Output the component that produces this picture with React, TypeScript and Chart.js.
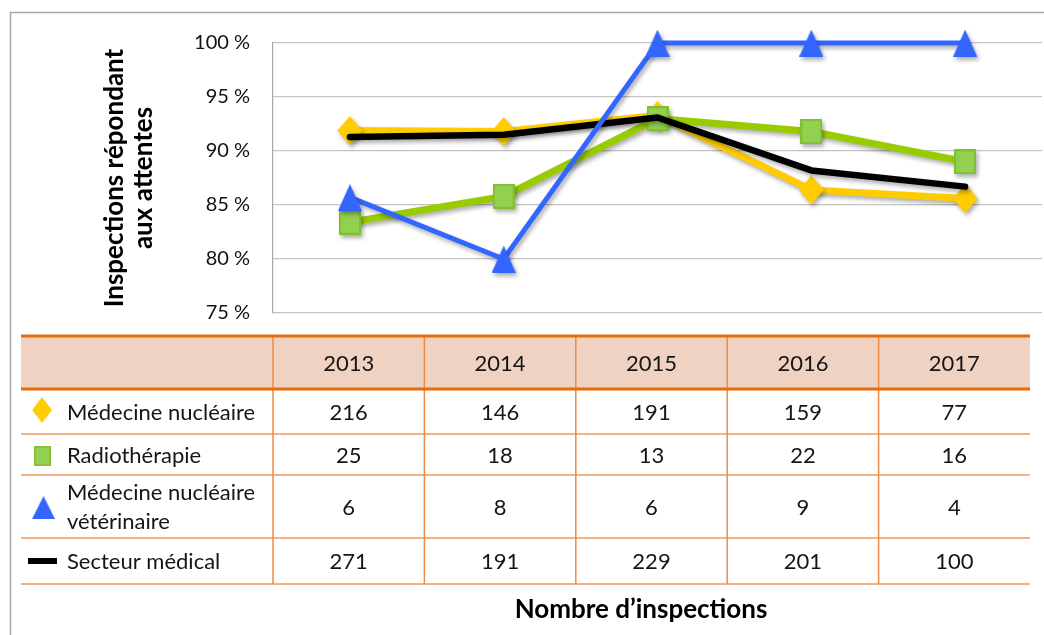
import React, { useEffect, useRef } from 'react';
import { Chart, registerables } from 'chart.js';

Chart.register(...registerables);

// ---- Data ----
const years = ['2013', '2014', '2015', '2016', '2017'];
const medNucPct = [91.9, 91.8, 93.3, 86.4, 85.6];
const radioPct = [83.4, 85.8, 93.0, 91.8, 89.0];
const vetPct = [85.7, 80.0, 100, 100, 100];
const secteurPct = [91.3, 91.5, 93.1, 88.2, 86.7];

const medNucCount = [216, 146, 191, 159, 77];
const radioCount = [25, 18, 13, 22, 16];
const vetCount = [6, 8, 6, 9, 4];
const secteurCount = [271, 191, 229, 201, 100];

const yTicks = [75, 80, 85, 90, 95, 100];
const yTitle = ['Inspections répondant', 'aux attentes'];
const xTitle = 'Nombre d’inspections';
const rowLabels: (string | string[])[] = [
  'Médecine nucléaire',
  'Radiothérapie',
  ['Médecine nucléaire', 'vétérinaire'],
  'Secteur médical',
];

const YELLOW = '#FFCC00';
const GREEN_LINE = '#99CC00';
const GREEN_FILL = '#92D050';
const BLUE = '#3366FF';
const BLACK = '#000000';
const FONT = 'Lato';

function makeMarker(kind: string, w: number, h: number, fill: string, stroke?: string) {
  const c = document.createElement('canvas');
  c.width = w;
  c.height = h;
  const ctx = c.getContext('2d')!;
  ctx.fillStyle = fill;
  ctx.beginPath();
  if (kind === 'diamond') {
    ctx.moveTo(w / 2, 0);
    ctx.lineTo(w, h / 2);
    ctx.lineTo(w / 2, h);
    ctx.lineTo(0, h / 2);
  } else if (kind === 'triangle') {
    ctx.moveTo(w / 2, 0);
    ctx.lineTo(w, h);
    ctx.lineTo(0, h);
  } else {
    ctx.rect(0, 0, w, h);
  }
  ctx.closePath();
  ctx.fill();
  if (stroke) {
    ctx.strokeStyle = stroke;
    ctx.lineWidth = 2;
    ctx.strokeRect(1, 1, w - 2, h - 2);
  }
  return c;
}

export default function App() {
  const ref = useRef<HTMLCanvasElement | null>(null);

  useEffect(() => {
    document.body.style.margin = '0';
    document.body.style.overflow = 'hidden';
    const canvas = ref.current!;

    const diamond = makeMarker('diamond', 25, 29, YELLOW);
    const square = makeMarker('square', 22, 25, GREEN_FILL, '#82BF2E');
    const triangle = makeMarker('triangle', 24, 27, BLUE);

    const shadowPlugin = {
      id: 'shadow',
      beforeDatasetDraw(chart: any) {
        const ctx = chart.ctx;
        ctx.save();
        ctx.shadowColor = 'rgba(0,0,0,0.32)';
        ctx.shadowBlur = 4;
        ctx.shadowOffsetX = 2;
        ctx.shadowOffsetY = 3;
      },
      afterDatasetDraw(chart: any) {
        chart.ctx.restore();
      },
    };

    const tablePlugin = {
      id: 'table',
      afterDraw(chart: any) {
        const ctx = chart.ctx as CanvasRenderingContext2D;
        const left = 21;
        const labelRight = 273;
        const right = 1030;
        const top = 336;
        const headBottom = 389;
        const rowLines = [434, 475, 538, 584];
        const rowEdges = [headBottom, ...rowLines];
        const colW = (right - labelRight) / years.length;
        ctx.save();

        // header fill
        ctx.fillStyle = '#EFD2C1';
        ctx.fillRect(left, top, right - left, headBottom - top);

        // row separators
        ctx.strokeStyle = '#F4B183';
        ctx.lineWidth = 2;
        rowLines.forEach((y) => {
          ctx.beginPath();
          ctx.moveTo(left, y);
          ctx.lineTo(right, y);
          ctx.stroke();
        });

        // vertical lines
        ctx.strokeStyle = '#EC8B45';
        ctx.lineWidth = 1.5;
        for (let i = 0; i < years.length; i++) {
          const x = labelRight + i * colW;
          ctx.beginPath();
          ctx.moveTo(x, top);
          ctx.lineTo(x, rowLines[rowLines.length - 1]);
          ctx.stroke();
        }

        // thick header lines
        ctx.strokeStyle = '#E46C0A';
        ctx.lineWidth = 3;
        [top, headBottom].forEach((y) => {
          ctx.beginPath();
          ctx.moveTo(left, y);
          ctx.lineTo(right, y);
          ctx.stroke();
        });

        // header text
        ctx.fillStyle = '#151515';
        ctx.font = `22px ${FONT}`;
        ctx.textAlign = 'center';
        ctx.textBaseline = 'middle';
        years.forEach((yr, i) => {
          ctx.fillText(yr, labelRight + (i + 0.5) * colW, (top + headBottom) / 2 + 1);
        });

        // body
        const counts = [medNucCount, radioCount, vetCount, secteurCount];
        counts.forEach((row, r) => {
          const cy = (rowEdges[r] + rowEdges[r + 1]) / 2 + 1;
          ctx.textAlign = 'center';
          row.forEach((v, i) => {
            ctx.fillText(String(v), labelRight + (i + 0.5) * colW, cy);
          });
          ctx.textAlign = 'left';
          const lab = rowLabels[r];
          if (Array.isArray(lab)) {
            ctx.fillText(lab[0], 67, cy - 15);
            ctx.fillText(lab[1], 67, cy + 14);
          } else {
            ctx.fillText(lab, 67, cy);
          }
        });

        // legend icons
        ctx.drawImage(diamond, 32, 397, 20, 26);
        ctx.drawImage(square, 34, 446, 17, 20);
        ctx.drawImage(triangle, 32, 496, 23, 23);
        ctx.fillStyle = BLACK;
        ctx.fillRect(28, 558, 29, 6);

        // bottom title
        ctx.fillStyle = '#000';
        ctx.font = `bold 26px ${FONT}`;
        ctx.textAlign = 'center';
        ctx.fillText(xTitle, 641, 610);

        // outer frame
        ctx.strokeStyle = '#A6A6A6';
        ctx.lineWidth = 1.5;
        ctx.beginPath();
        ctx.moveTo(10.5, 635);
        ctx.lineTo(10.5, 12.5);
        ctx.lineTo(1044, 12.5);
        ctx.stroke();
        ctx.restore();
      },
    };

    const chart = new Chart(canvas, {
      type: 'line',
      data: {
        labels: years,
        datasets: [
          {
            label: 'Médecine nucléaire',
            data: medNucPct,
            borderColor: YELLOW,
            backgroundColor: YELLOW,
            borderWidth: 7,
            pointStyle: diamond as any,
            pointRadius: 12,
            tension: 0,
            clip: false as any,
            order: 3,
          },
          {
            label: 'Radiothérapie',
            data: radioPct,
            borderColor: GREEN_LINE,
            backgroundColor: GREEN_FILL,
            borderWidth: 7,
            pointStyle: square as any,
            pointRadius: 12,
            tension: 0,
            clip: false as any,
            order: 2,
          },
          {
            label: 'Médecine nucléaire vétérinaire',
            data: vetPct,
            borderColor: BLUE,
            backgroundColor: BLUE,
            borderWidth: 5,
            pointStyle: triangle as any,
            pointRadius: 12,
            tension: 0,
            clip: false as any,
            order: 0,
          },
          {
            label: 'Secteur médical',
            data: secteurPct,
            borderColor: BLACK,
            backgroundColor: BLACK,
            borderWidth: 6.5,
            borderCapStyle: 'round',
            borderJoinStyle: 'round',
            pointRadius: 0,
            tension: 0,
            clip: false as any,
            order: 1,
          },
        ],
      },
      options: {
        animation: false,
        responsive: true,
        maintainAspectRatio: false,
        layout: { autoPadding: false, padding: { left: 0, top: 43, right: 2, bottom: 322 } },
        plugins: {
          legend: { display: false },
          tooltip: { enabled: false },
        },
        scales: {
          x: { display: false, offset: true },
          y: {
            min: 75,
            max: 100,
            afterBuildTicks: (s: any) => {
              s.ticks = yTicks.map((v) => ({ value: v }));
            },
            afterFit: (s: any) => {
              s.width = 273;
            },
            ticks: {
              callback: (v: any) => `${v} %`,
              font: { family: FONT, size: 20 },
              color: '#111',
              padding: 23,
            },
            grid: { color: '#C4C4C4', lineWidth: 1.2, drawTicks: false },
            border: { display: true, color: '#A6A6A6', width: 1.2 },
            title: {
              display: true,
              text: yTitle,
              color: '#000',
              font: { family: FONT, size: 26, weight: 'bold', lineHeight: 1.08 },
              padding: { top: 101, bottom: 0 },
            },
          },
        },
      },
      plugins: [shadowPlugin, tablePlugin],
    });

    return () => chart.destroy();
  }, []);

  return (
    <div style={{ position: 'relative', width: 1044, height: 635, background: '#fff' }}>
      <canvas ref={ref} />
    </div>
  );
}
